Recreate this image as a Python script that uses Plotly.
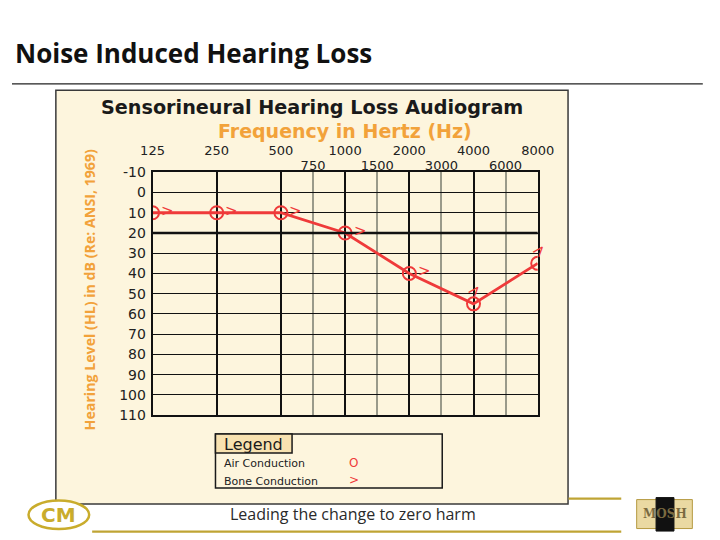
import plotly.graph_objects as go

# ---------------- data ----------------
octave_freqs = [125, 250, 500, 1000, 2000, 4000, 8000]
octave_labels = ["125", "250", "500", "1000", "2000", "4000", "8000"]
half_freqs = [750, 1500, 3000, 6000]
half_labels = ["750", "1500", "3000", "6000"]
db_ticks = [-10, 0, 10, 20, 30, 40, 50, 60, 70, 80, 90, 100, 110]

air_freqs = [125, 250, 500, 1000, 2000, 4000, 8000]
air_db = [10, 10, 10, 20, 40, 55, 35]
bone_freqs = [125, 250, 500, 1000, 2000, 4000, 8000]
bone_db = [10, 10, 10, 20, 40, 55, 35]

W, H = 720, 540
SX, OX = 0.965, 10.4
SY, OY = 0.971, 6.6
def px(x): return max(0.0, min(1.0, ((x - OX) / SX) / W))
def py(y): return max(0.0, min(1.0, 1 - ((y - OY) / SY) / H))

def fpos(f):
    # audiogram positions: octaves at integers, inter-octave at midpoints
    if f in octave_freqs:
        return octave_freqs.index(f)
    return octave_freqs.index(int(f / 1.5)) + 0.5

RED = "#ef3a3a"
ORANGE = "#f2a23a"
GOLD = "#bfa434"

fig = go.Figure()

fig.add_trace(go.Scatter(
    x=[fpos(f) for f in air_freqs], y=air_db,
    mode="lines+markers",
    line=dict(color=RED, width=2.8),
    marker=dict(symbol="circle-open", size=13, color=RED, line=dict(width=2)),
    showlegend=False, hoverinfo="skip", xaxis="x", yaxis="y"))

# dummy trace for the second (half-octave) top axis
fig.add_trace(go.Scatter(x=[0, 6], y=[None, None], xaxis="x2", yaxis="y",
                         showlegend=False, hoverinfo="skip"))

annotations = []
for f, v in zip(bone_freqs, bone_db):
    p = fpos(f)
    if p >= 5:
        annotations.append(dict(x=p, y=v, xref="x", yref="y", text=">", showarrow=False,
                                font=dict(family="DejaVu Sans", size=16, color=RED),
                                xshift=1, yshift=13, textangle=-50))
    else:
        annotations.append(dict(x=p, y=v, xref="x", yref="y", text=">", showarrow=False,
                                font=dict(family="DejaVu Sans", size=15, color=RED),
                                xshift=15, yshift=2))

dom_x = [px(151.7), px(539)]
dom_y = [py(414), py(171)]

fig.update_layout(
    width=W, height=H,
    margin=dict(l=0, r=0, t=0, b=0),
    paper_bgcolor="white",
    plot_bgcolor="#ffffcd",
    xaxis=dict(domain=dom_x, range=[0, 6], side="top", anchor="y",
               tickmode="array", tickvals=[fpos(f) for f in octave_freqs], ticktext=octave_labels,
               showgrid=True, gridcolor="#111111", gridwidth=1.7,
               minor=dict(tickmode="array", tickvals=[fpos(f) for f in half_freqs],
                          showgrid=True, gridcolor="#9a9a8a", gridwidth=1.6, ticks=""),
               ticks="", zeroline=False,
               showline=True, linecolor="#111111", linewidth=1.7, mirror=True,
               tickfont=dict(family="DejaVu Sans", size=13, color="#222222"),
               ticklabelstandoff=10, fixedrange=True),
    xaxis2=dict(domain=dom_x, range=[0, 6], side="top", anchor="y", overlaying="x",
                tickmode="array", tickvals=[fpos(f) for f in half_freqs], ticktext=half_labels,
                showgrid=False, ticks="", zeroline=False, showline=False,
                tickfont=dict(family="DejaVu Sans", size=13, color="#222222"),
                ticklabelstandoff=-1, fixedrange=True),
    yaxis=dict(domain=dom_y, range=[110, -10], anchor="x",
               tickmode="array", tickvals=db_ticks, ticktext=[str(v) for v in db_ticks],
               showgrid=True, gridcolor="#111111", gridwidth=1.3,
               ticks="", zeroline=False,
               showline=True, linecolor="#111111", linewidth=1.7, mirror=True,
               tickfont=dict(family="DejaVu Sans", size=14, color="#222222"),
               ticklabelstandoff=2, fixedrange=True),
)

shapes = [
    dict(type="rect", xref="paper", yref="paper", x0=px(54.5), x1=px(569.5), y0=py(503), y1=py(89),
         fillcolor="#fdf5dd", line=dict(color="#3a3a3a", width=1.5), layer="below"),
    dict(type="line", xref="x domain", yref="y", x0=0, x1=1, y0=20, y1=20,
         line=dict(color="#111111", width=2.6)),
    dict(type="rect", xref="paper", yref="paper", x0=px(215), x1=px(443), y0=py(487), y1=py(433),
         fillcolor="#fdf5dd", line=dict(color="#1a1a1a", width=1.5)),
    dict(type="rect", xref="paper", yref="paper", x0=px(215), x1=px(292), y0=py(452), y1=py(433),
         fillcolor="#f8e2b0", line=dict(color="#1a1a1a", width=1.5)),
    dict(type="line", xref="paper", yref="paper", x0=0, x1=px(705), y0=py(82.5), y1=py(82.5),
         line=dict(color="#222222", width=1.2)),
    dict(type="line", xref="paper", yref="paper", x0=px(570), x1=px(623), y0=py(497.5), y1=py(497.5),
         line=dict(color=GOLD, width=2.2)),
    dict(type="line", xref="paper", yref="paper", x0=px(91), x1=px(623), y0=py(530.5), y1=py(530.5),
         line=dict(color=GOLD, width=2.2)),
    dict(type="circle", xref="paper", yref="paper", x0=px(27), x1=px(88), y0=py(528), y1=py(499.5),
         fillcolor="white", line=dict(color="#c9ac2c", width=2.5)),
    dict(type="rect", xref="paper", yref="paper", x0=px(638.5), x1=px(694.5), y0=py(527.5), y1=py(498.5),
         fillcolor="#ead9a2", line=dict(color="#b59a40", width=1)),
    dict(type="rect", xref="paper", yref="paper", x0=px(658), x1=px(676), y0=py(530), y1=py(496.5),
         fillcolor="#111111", line=dict(color="#111111", width=1)),
]
fig.update_layout(shapes=shapes)

annotations += [
    dict(x=px(11), y=py(52), xref="paper", yref="paper", xanchor="left", yanchor="middle",
         text="<b>Noise Induced Hearing Loss</b>", showarrow=False,
         font=dict(family="Open Sans", size=26, color="#111111")),
    dict(x=px(312), y=py(106), xref="paper", yref="paper", xanchor="center", yanchor="middle",
         text="<b>Sensorineural Hearing Loss Audiogram</b>", showarrow=False,
         font=dict(family="DejaVu Sans", size=19.2, color="#1a1a1a")),
    dict(x=px(345), y=py(130), xref="paper", yref="paper", xanchor="center", yanchor="middle",
         text="<b>Frequency in Hertz (Hz)</b>", showarrow=False,
         font=dict(family="DejaVu Sans", size=19, color=ORANGE)),
    dict(x=px(88), y=py(289), xref="paper", yref="paper", xanchor="center", yanchor="middle",
         text="<b>Hearing Level (HL) in dB (Re: ANSI, 1969)</b>", showarrow=False, textangle=-90,
         font=dict(family="Open Sans", size=14.2, color=ORANGE)),
    dict(x=px(222), y=py(443), xref="paper", yref="paper", xanchor="left", yanchor="middle",
         text="Legend", showarrow=False, font=dict(family="DejaVu Sans", size=16, color="#1a1a1a")),
    dict(x=px(222), y=py(462), xref="paper", yref="paper", xanchor="left", yanchor="middle",
         text="Air Conduction", showarrow=False, font=dict(family="DejaVu Sans", size=11, color="#222222")),
    dict(x=px(222), y=py(480), xref="paper", yref="paper", xanchor="left", yanchor="middle",
         text="Bone Conduction", showarrow=False, font=dict(family="DejaVu Sans", size=11, color="#222222")),
    dict(x=px(354), y=py(462), xref="paper", yref="paper", xanchor="center", yanchor="middle",
         text="O", showarrow=False, font=dict(family="DejaVu Sans", size=12, color=RED)),
    dict(x=px(354), y=py(479), xref="paper", yref="paper", xanchor="center", yanchor="middle",
         text=">", showarrow=False, font=dict(family="DejaVu Sans", size=12, color=RED)),
    dict(x=px(353.5), y=py(513), xref="paper", yref="paper", xanchor="center", yanchor="middle",
         text="Leading the change to zero harm", showarrow=False,
         font=dict(family="Open Sans", size=16, color="#2a2a2a")),
    dict(x=px(57.5), y=py(514), xref="paper", yref="paper", xanchor="center", yanchor="middle",
         text="<b>CM</b>", showarrow=False,
         font=dict(family="DejaVu Sans", size=20, color="#c9ac2c")),
    dict(x=px(666.5), y=py(513), xref="paper", yref="paper", xanchor="center", yanchor="middle",
         text="<b>MOSH</b>", showarrow=False,
         font=dict(family="DejaVu Serif", size=12, color="#7a6a40")),
]
fig.update_layout(annotations=annotations)

fig.write_html("out.html",
               config={"displayModeBar": False},
               post_script="document.body.style.margin='0';document.body.style.padding='0';"
                           "document.body.style.overflow='hidden';")
